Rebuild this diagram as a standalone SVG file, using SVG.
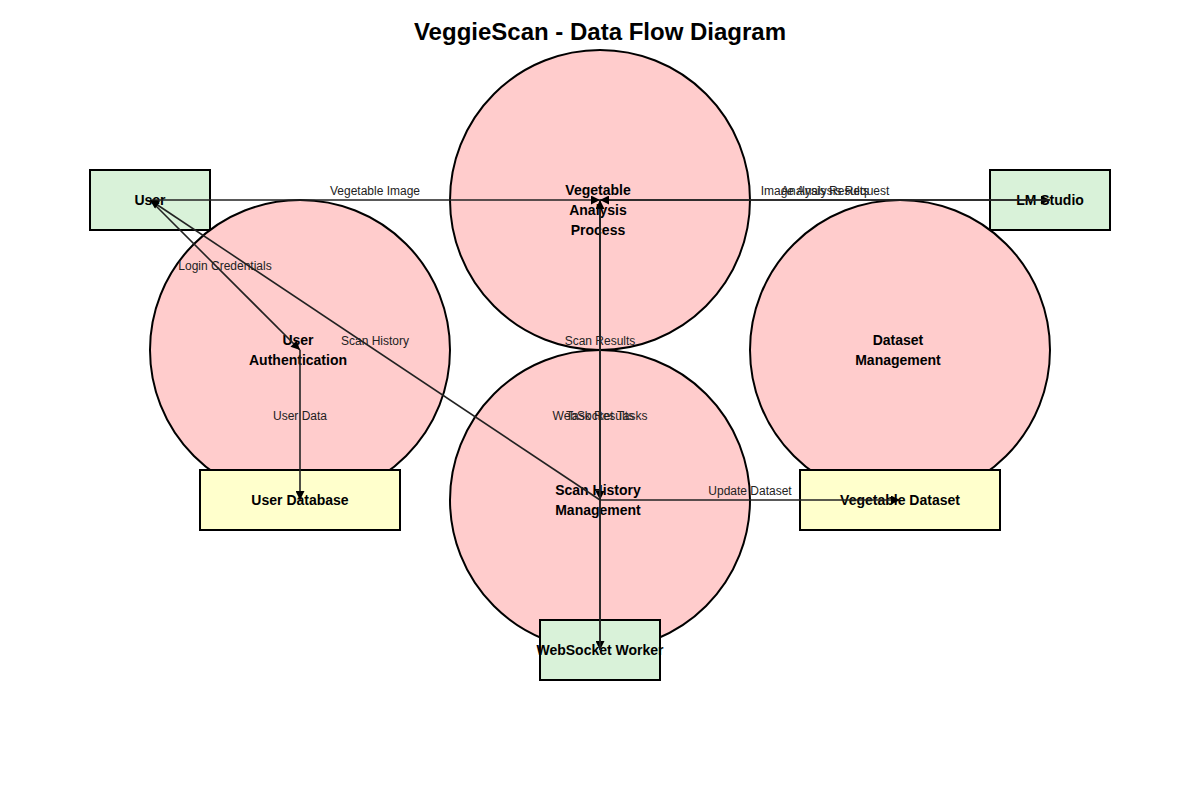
<svg xmlns="http://www.w3.org/2000/svg" width="1200" height="800" viewBox="0 0 1200 800">
<style>
.bg{fill:#ffffff}
.proc{fill:#ffcccc;stroke:#000;stroke-width:2}
.ext{fill:#d9f2d9;stroke:#000;stroke-width:2}
.store{fill:#ffffcc;stroke:#000;stroke-width:2}
.nl{font-family:"Liberation Sans",Arial,sans-serif;font-size:14px;font-weight:bold;fill:#000;text-anchor:middle}
.el{font-family:"Liberation Sans",Arial,sans-serif;font-size:12px;fill:#222;text-anchor:middle}
.title{font-family:"Liberation Sans",Arial,sans-serif;font-size:24px;font-weight:bold;fill:#000;text-anchor:middle}
.edge{stroke:#222;stroke-width:1.6;fill:none;marker-end:url(#arrow)}
</style>
<defs>
<marker id="arrow" viewBox="0 0 10 10" refX="10" refY="5" markerWidth="10" markerHeight="9" markerUnits="userSpaceOnUse" orient="auto">
<path d="M0,0 L10,5 L0,10 Z" fill="#000"/>
</marker>
</defs>
<rect class="bg" x="0" y="0" width="1200" height="800"/>
<text class="title" x="600" y="40">VeggieScan - Data Flow Diagram</text>
<g id="nodes">
<g id="user-auth">
<circle class="proc" cx="300" cy="350" r="150"/>
<text class="nl" x="298" y="345"><tspan x="298">User</tspan><tspan x="298" dy="20">Authentication</tspan></text>
</g>
<g id="vegetable-analysis">
<circle class="proc" cx="600" cy="200" r="150"/>
<text class="nl" x="598" y="195"><tspan x="598">Vegetable</tspan><tspan x="598" dy="20">Analysis</tspan><tspan x="598" dy="20">Process</tspan></text>
</g>
<g id="scan-history">
<circle class="proc" cx="600" cy="500" r="150"/>
<text class="nl" x="598" y="495"><tspan x="598">Scan History</tspan><tspan x="598" dy="20">Management</tspan></text>
</g>
<g id="dataset-management">
<circle class="proc" cx="900" cy="350" r="150"/>
<text class="nl" x="898" y="345"><tspan x="898">Dataset</tspan><tspan x="898" dy="20">Management</tspan></text>
</g>
<g id="user">
<rect class="ext" x="90" y="170" width="120" height="60"/>
<text class="nl" x="150" y="205">User</text>
</g>
<g id="lm-studio">
<rect class="ext" x="990" y="170" width="120" height="60"/>
<text class="nl" x="1050" y="205">LM Studio</text>
</g>
<g id="websocket-worker">
<rect class="ext" x="540" y="620" width="120" height="60"/>
<text class="nl" x="600" y="655">WebSocket Worker</text>
</g>
<g id="user-database">
<rect class="store" x="200" y="470" width="200" height="60"/>
<text class="nl" x="300" y="505">User Database</text>
</g>
<g id="vegetable-dataset">
<rect class="store" x="800" y="470" width="200" height="60"/>
<text class="nl" x="900" y="505">Vegetable Dataset</text>
</g>
</g>
<g id="connectors">
<line class="edge" x1="150" y1="200" x2="600" y2="200"/>
<text class="el" x="375" y="195">Vegetable Image</text>
<line class="edge" x1="600" y1="200" x2="1050" y2="200"/>
<text class="el" x="825" y="195">Image Analysis Request</text>
<line class="edge" x1="1050" y1="200" x2="600" y2="200"/>
<text class="el" x="825" y="195">Analysis Results</text>
<line class="edge" x1="150" y1="200" x2="300" y2="350"/>
<text class="el" x="225" y="270">Login Credentials</text>
<line class="edge" x1="300" y1="350" x2="300" y2="500"/>
<text class="el" x="300" y="420">User Data</text>
<line class="edge" x1="600" y1="200" x2="600" y2="500"/>
<text class="el" x="600" y="345">Scan Results</text>
<line class="edge" x1="600" y1="500" x2="150" y2="200"/>
<text class="el" x="375" y="345">Scan History</text>
<line class="edge" x1="600" y1="500" x2="900" y2="500"/>
<text class="el" x="750" y="495">Update Dataset</text>
<line class="edge" x1="600" y1="200" x2="600" y2="650"/>
<text class="el" x="600" y="420">WebSocket Tasks</text>
<line class="edge" x1="600" y1="650" x2="600" y2="200"/>
<text class="el" x="600" y="420">Task Results</text>
</g>
</svg>
